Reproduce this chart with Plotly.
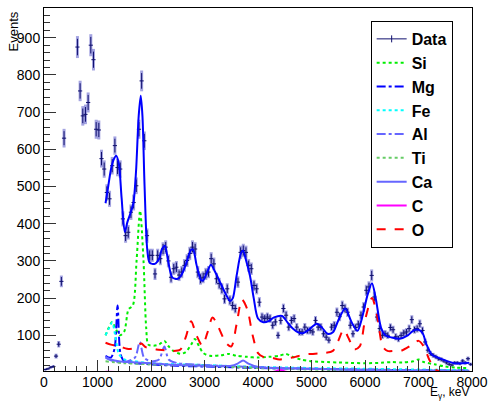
import numpy as np
import plotly.graph_objects as go

# ---------------- data (histogram, 50 keV bins) ----------------
BIN_WIDTH = 50
FIRST_CENTER = 25
counts = [8, 10, 14, 16, 44, 76, 245, 630, 1100, 1150, 1120, 1020, 875, 757, 690, 694,
          726, 880, 841, 654, 652, 575, 547, 484, 467, 556, 610, 551, 547, 413, 368, 377,
          431, 457, 502, 654, 784, 623, 368, 315, 315, 265, 315, 306, 332, 337, 300, 256,
          279, 283, 262, 270, 288, 301, 320, 337, 332, 270, 252, 256, 265, 270, 306, 292,
          252, 239, 225, 198, 225, 194, 180, 172, 243, 323, 328, 323, 288, 279, 234, 225,
          189, 149, 145, 149, 145, 127, 136, 100, 140, 172, 154, 122, 140, 145, 122, 109,
          109, 122, 113, 113, 109, 140, 122, 122, 104, 95, 87, 122, 127, 162, 150, 180,
          172, 162, 127, 104, 121, 130, 154, 176, 221, 230, 261, 203, 149, 118, 100, 104,
          100, 121, 115, 96, 91, 100, 106, 109, 118, 142, 115, 118, 131, 113, 82, 60,
          51, 46, 42, 37, 35, 31, 26, 22, 20, 26, 26, 24, 31, 26, 37, 22]

# total fit
fit_E = [1150, 1200, 1250, 1300, 1350, 1400, 1450, 1510, 1560, 1620, 1670, 1720, 1770, 1808,
         1840, 1880, 1930, 1975, 2070, 2150, 2200, 2260, 2320, 2400, 2500, 2560, 2650, 2750,
         2790, 2850, 2930, 2970, 3050, 3120, 3200, 3300, 3400, 3480, 3530, 3600, 3680, 3720,
         3780, 3850, 3920, 4000, 4100, 4200, 4300, 4450, 4550, 4650, 4750, 4850, 4950, 5100,
         5200, 5300, 5400, 5500, 5630, 5750, 5860, 5950, 6050, 6130, 6200, 6300, 6380, 6500,
         6650, 6800, 6900, 7000, 7080, 7150, 7250, 7400, 7550, 7700, 7850, 7950]
fit_V = [455, 500, 545, 572, 583, 560, 470, 378, 405, 430, 455, 540, 690, 744,
         690, 500, 330, 295, 292, 305, 330, 341, 300, 255, 252, 260, 290, 330,
         330, 290, 250, 247, 270, 290, 270, 240, 210, 192, 200, 260, 320, 328,
         300, 260, 200, 145, 135, 138, 148, 152, 135, 118, 108, 106, 115, 131,
         120, 104, 108, 140, 172, 135, 112, 150, 210, 240, 200, 120, 100, 94,
         91, 100, 112, 115, 105, 75, 48, 38, 30, 24, 25, 26]

# components
si_E = [1150, 1275, 1330, 1420, 1500, 1580, 1660, 1730, 1796, 1860, 1910, 1950, 2050, 2150,
        2250, 2320, 2420, 2550, 2650, 2750, 2820, 2900, 2980, 3100, 3300, 3450, 3600, 3800,
        4000, 4200, 4400, 4520, 4650, 4800, 5000, 5300, 5500, 5700, 6000, 6300, 6500, 6700,
        6900, 7000, 7100, 7300, 7500, 7700, 7950]
si_V = [100, 136, 120, 100, 110, 170, 180, 300, 435, 300, 120, 75, 72, 75,
        85, 72, 58, 50, 55, 75, 90, 70, 52, 45, 46, 50, 45, 42,
        40, 42, 45, 50, 42, 35, 30, 28, 27, 26, 25, 26, 28, 27,
        30, 35, 28, 22, 16, 13, 12]

mg_E = [1150, 1250, 1320, 1375, 1430, 1500, 1700, 2000, 2500, 3000, 4000, 5000, 6000, 7000, 7950]
mg_V = [45, 40, 65, 180, 50, 30, 25, 22, 18, 16, 12, 10, 8, 6, 5]

fe_E = [1150, 1220, 1275, 1330, 1400, 1500, 1700, 2000, 2500, 3000, 4000, 5000, 6000, 7000, 7950]
fe_V = [100, 120, 135, 100, 50, 35, 30, 25, 22, 20, 15, 12, 10, 8, 6]

al_E = [1150, 1300, 1500, 1700, 1790, 1870, 2000, 2150, 2250, 2330, 2500, 3000, 4000, 5000, 6000, 7000, 7950]
al_V = [40, 30, 28, 40, 82, 40, 30, 35, 70, 35, 25, 20, 14, 10, 8, 6, 5]

ti_E = [1150, 1500, 2000, 3000, 4000, 5000, 6000, 7000, 7950]
ti_V = [30, 25, 22, 18, 12, 8, 5, 4, 3]

ca_E = [1150, 1250, 1400, 1600, 2000, 2500, 3000, 3500, 3620, 3720, 3820, 4000, 5000, 6000, 7000, 7950]
ca_V = [42, 35, 30, 28, 25, 20, 18, 18, 24, 32, 24, 15, 10, 6, 4, 3]

c_E = [1150, 4300, 4380, 4450, 4520, 7950]
c_V = [2, 2, 6, 6, 2, 1]

o_E = [1150, 1250, 1350, 1450, 1550, 1650, 1750, 1820, 1900, 2000, 2100, 2250, 2400, 2550,
       2650, 2750, 2850, 2960, 3050, 3150, 3250, 3400, 3500, 3600, 3700, 3800, 3900, 4000,
       4100, 4250, 4400, 4550, 4700, 4850, 5000, 5200, 5400, 5500, 5600, 5700, 5800, 5900,
       6000, 6130, 6230, 6330, 6420, 6550, 6700, 6850, 7000, 7100, 7200, 7300, 7400]
o_V = [80, 75, 72, 68, 64, 64, 72, 78, 68, 66, 62, 60, 58, 62,
       95, 138, 100, 72, 105, 148, 125, 80, 70, 130, 196, 170, 100, 52,
       42, 40, 35, 38, 42, 48, 50, 52, 58, 85, 115, 90, 62, 70,
       140, 200, 150, 70, 58, 58, 60, 72, 85, 70, 35, 10, 2]

# ---------------- figure ----------------
E = [FIRST_CENTER + BIN_WIDTH * i for i in range(len(counts))]
err = np.sqrt(np.array(counts, dtype=float))

fig = go.Figure()

FONT = "Liberation Sans, Arial, sans-serif"
NAVY = "#10106e"

# light error band
fig.add_trace(go.Scatter(
    x=E, y=counts, mode="markers",
    marker=dict(size=1, color="rgba(0,0,0,0)"),
    error_y=dict(type="data", array=err, color="rgba(90,90,200,0.55)", thickness=3, width=0),
    showlegend=False, hoverinfo="skip"))
# dark error bars
fig.add_trace(go.Scatter(
    x=E, y=counts, mode="markers",
    marker=dict(symbol="line-ew", size=3, color=NAVY, line=dict(width=1, color=NAVY)),
    error_y=dict(type="data", array=err * 0.75, color=NAVY, thickness=1, width=0),
    showlegend=False))

comp_styles = [
    ("Si", si_E, si_V, "#00ee00", "dot", 2),
    ("Mg", mg_E, mg_V, "#0000ff", "dashdot", 2),
    ("Fe", fe_E, fe_V, "#00ffff", "dot", 2),
    ("Al", al_E, al_V, "#6666ff", "dashdot", 2),
    ("Ti", ti_E, ti_V, "#66cc66", "dot", 2),
    ("Ca", ca_E, ca_V, "#6666ff", "solid", 2),
    ("C", c_E, c_V, "#ff00ff", "solid", 2),
    ("O", o_E, o_V, "#ff0000", "dash", 2),
]

# legend entry for data
fig.add_trace(go.Scatter(
    x=[None], y=[None], mode="lines+markers", name="Data",
    line=dict(color=NAVY, width=1),
    marker=dict(symbol="line-ns", size=5, color=NAVY, line=dict(width=1, color=NAVY))))

for name, xs, ys, col, dash, w in comp_styles:
    fig.add_trace(go.Scatter(
        x=xs, y=ys, mode="lines", name=name,
        line=dict(color=col, dash=dash, width=w, shape="spline", smoothing=0.8)))

# total fit
fig.add_trace(go.Scatter(
    x=fit_E, y=fit_V, mode="lines", showlegend=False,
    line=dict(color="#0000ff", width=2, shape="spline", smoothing=0.8)))

L, R, T, B = 44, 16, 7, 32
W, H = 495, 403
pw, ph = W - L - R, H - T - B

fig.update_layout(
    width=W, height=H,
    margin=dict(l=L, r=R, t=T, b=B, pad=0),
    paper_bgcolor="white", plot_bgcolor="white",
    font=dict(family=FONT, size=14, color="black"),
    showlegend=True,
    legend=dict(
        x=(376 - L) / pw, y=(H - B - 20) / ph, xanchor="left", yanchor="top",
        bgcolor="white", bordercolor="black", borderwidth=1,
        font=dict(family=FONT, size=16, color="black", weight="bold"),
        tracegroupgap=0, itemwidth=30),
    xaxis=dict(
        range=[0, 8000], showgrid=False, zeroline=False,
        showline=True, mirror=True, linecolor="black", linewidth=1,
        ticks="inside", ticklen=11, tickwidth=1, tickcolor="#333",
        tick0=0, dtick=1000, ticklabelstandoff=-2,
        minor=dict(ticks="inside", ticklen=5, dtick=200, tickcolor="#333", showgrid=False),
        tickfont=dict(family=FONT, size=14)),
    yaxis=dict(
        range=[4, 980], showgrid=False, zeroline=False,
        showline=True, mirror=True, linecolor="black", linewidth=1,
        ticks="inside", ticklen=12, tickwidth=1, tickcolor="#333",
        tick0=0, dtick=100,
        minor=dict(ticks="inside", ticklen=6, dtick=20, tickcolor="#333", showgrid=False),
        tickfont=dict(family=FONT, size=14)),
    annotations=[
        dict(text="E<sub>γ</sub>, keV", xref="paper", yref="paper",
             x=1.0, y=-(403 - (H - B)) / ph, xanchor="right", yanchor="bottom",
             showarrow=False, font=dict(family=FONT, size=12)),
        dict(text="Events", xref="paper", yref="paper", textangle=-90,
             x=(14 - L) / pw, y=(H - B - 8) / ph, xanchor="center", yanchor="top",
             showarrow=False, font=dict(family=FONT, size=13)),
    ],
)

fig.write_html("out.html")
